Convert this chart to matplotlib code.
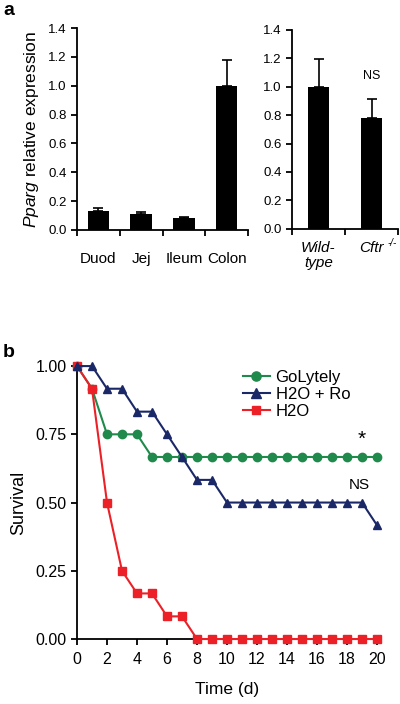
import numpy as np
import matplotlib
matplotlib.use("Agg")
import matplotlib.pyplot as plt

plt.rcParams['font.family'] = ['Liberation Sans', 'DejaVu Sans']
plt.rcParams['mathtext.fontset'] = 'custom'
plt.rcParams['mathtext.rm'] = 'Liberation Sans'
plt.rcParams['mathtext.it'] = 'Liberation Sans:italic'

# panel a data
tissues = ['Duod', 'Jej', 'Ileum', 'Colon']
tissue_expr = [0.134, 0.111, 0.081, 1.0]
tissue_err = [0.018, 0.017, 0.011, 0.176]

genotypes = ['Wild-\ntype', 'Cftr']
geno_expr = [1.0, 0.78]
geno_err = [0.197, 0.135]

# panel b data (survival per day)
days = list(range(0, 21))
golytely = [1.0, 0.917, 0.75, 0.75, 0.75] + [0.667] * 16
h2o_ro = [1.0, 1.0, 0.917, 0.917, 0.833, 0.833, 0.75, 0.667, 0.583, 0.583] + [0.5] * 10 + [0.417]
h2o = [1.0, 0.917, 0.5, 0.25, 0.167, 0.167, 0.083, 0.083] + [0.0] * 13

green = '#1f8a4c'
navy = '#1b2868'
red = '#ec2027'

fig = plt.figure(figsize=(4, 7.04), dpi=100)

def style(ax):
    for s in ['top', 'right']:
        ax.spines[s].set_visible(False)
    for s in ['left', 'bottom']:
        ax.spines[s].set_linewidth(1.3)
    ax.tick_params(width=1.3, length=4, color='black')

# left bar chart
ax1 = fig.add_axes([0.1925, 0.6733, 0.4275, 0.2869])
style(ax1)
x1 = np.arange(len(tissues))
ax1.bar(x1, tissue_expr, width=0.5, color='black', zorder=2)
ax1.errorbar(x1, tissue_expr, yerr=[np.zeros(len(x1)), tissue_err], fmt='none',
             ecolor='black', elinewidth=1.2, capsize=3.5, capthick=1.2, zorder=1)
ax1.set_xlim(-0.5, 3.5)
ax1.set_ylim(0, 1.4)
ax1.set_yticks(np.arange(0, 1.41, 0.2))
ax1.set_yticklabels(['%.1f' % v for v in np.arange(0, 1.41, 0.2)], fontsize=9.5)
ax1.set_xticks(x1)
ax1.set_xticklabels(tissues, fontsize=11)
ax1.tick_params(axis='x', which='major', length=0, pad=16)
ax1.set_xticks(np.arange(-0.5, 4.0, 1.0), minor=True)
ax1.tick_params(axis='x', which='minor', length=4, width=1.3)
ax1.set_ylabel(r'$\mathit{Pparg}$ relative expression', fontsize=12.5, labelpad=5)

# right bar chart
ax2 = fig.add_axes([0.73, 0.675, 0.265, 0.2827])
style(ax2)
x2 = np.arange(len(genotypes))
ax2.bar(x2, geno_expr, width=0.4, color='black', zorder=2)
ax2.errorbar(x2, geno_expr, yerr=[np.zeros(len(x2)), geno_err], fmt='none',
             ecolor='black', elinewidth=1.2, capsize=3.5, capthick=1.2, zorder=1)
ax2.set_xlim(-0.5, 1.5)
ax2.set_ylim(0, 1.4)
ax2.set_yticks(np.arange(0, 1.41, 0.2))
ax2.set_yticklabels(['%.1f' % v for v in np.arange(0, 1.41, 0.2)], fontsize=9.5)
ax2.set_xticks(x2)
ax2.set_xticklabels(genotypes, fontsize=11, style='italic', linespacing=1.1)
ax2.tick_params(axis='x', which='major', length=0, pad=9)
ax2.set_xticks([-0.5, 0.5, 1.5], minor=True)
ax2.tick_params(axis='x', which='minor', length=4, width=1.3)
ax2.annotate('-/-', xy=(1, 0), xycoords=('data', 'axes fraction'), xytext=(15, -10),
             textcoords='offset points', fontsize=7, style='italic', ha='center', va='center')
ax2.text(1, 1.03, 'NS', ha='center', va='bottom', fontsize=9)

# survival plot
ax3 = fig.add_axes([0.1925, 0.0923, 0.75, 0.3877])
style(ax3)
ax3.plot(days, h2o, color=red, lw=1.5, marker='s', ms=5.5, clip_on=False, zorder=3, label='H2O')
ax3.plot(days, h2o_ro, color=navy, lw=1.5, marker='^', ms=6, clip_on=False, zorder=4, label='H2O + Ro')
ax3.plot(days, golytely, color=green, lw=1.5, marker='o', ms=6, clip_on=False, zorder=2, label='GoLytely')
ax3.set_xlim(0, 20)
ax3.set_ylim(0, 1.0)
ax3.set_xticks(range(0, 21, 2))
ax3.set_xticklabels([str(v) for v in range(0, 21, 2)], fontsize=11.5)
ax3.set_yticks([0, 0.25, 0.5, 0.75, 1.0])
ax3.set_yticklabels(['0.00', '0.25', '0.50', '0.75', '1.00'], fontsize=11.5)
ax3.tick_params(axis='x', pad=5)
ax3.set_xlabel('Time (d)', fontsize=12.5, labelpad=11)
ax3.set_ylabel('Survival', fontsize=13, labelpad=6)
ax3.text(19, 0.73, '*', ha='center', va='center', fontsize=15)
ax3.text(18.8, 0.565, 'NS', ha='center', va='center', fontsize=11)

h, l = ax3.get_legend_handles_labels()
order = [2, 1, 0]
leg = ax3.legend([h[i] for i in order], [l[i] for i in order], loc='upper left',
                 frameon=False, fontsize=12, handlelength=1.6, handletextpad=0.35,
                 labelspacing=0.12, borderpad=0, borderaxespad=0, markerscale=1.1)
leg.set_bbox_to_anchor((243 / 400, 1 - 370 / 704), transform=fig.transFigure)

fig.text(0.008, 1 - 15 / 704, 'a', fontsize=14, fontweight='bold', ha='left', va='baseline')
fig.text(0.008, 1 - 357 / 704, 'b', fontsize=14, fontweight='bold', ha='left', va='baseline')

fig.savefig('out.png', dpi=100)
